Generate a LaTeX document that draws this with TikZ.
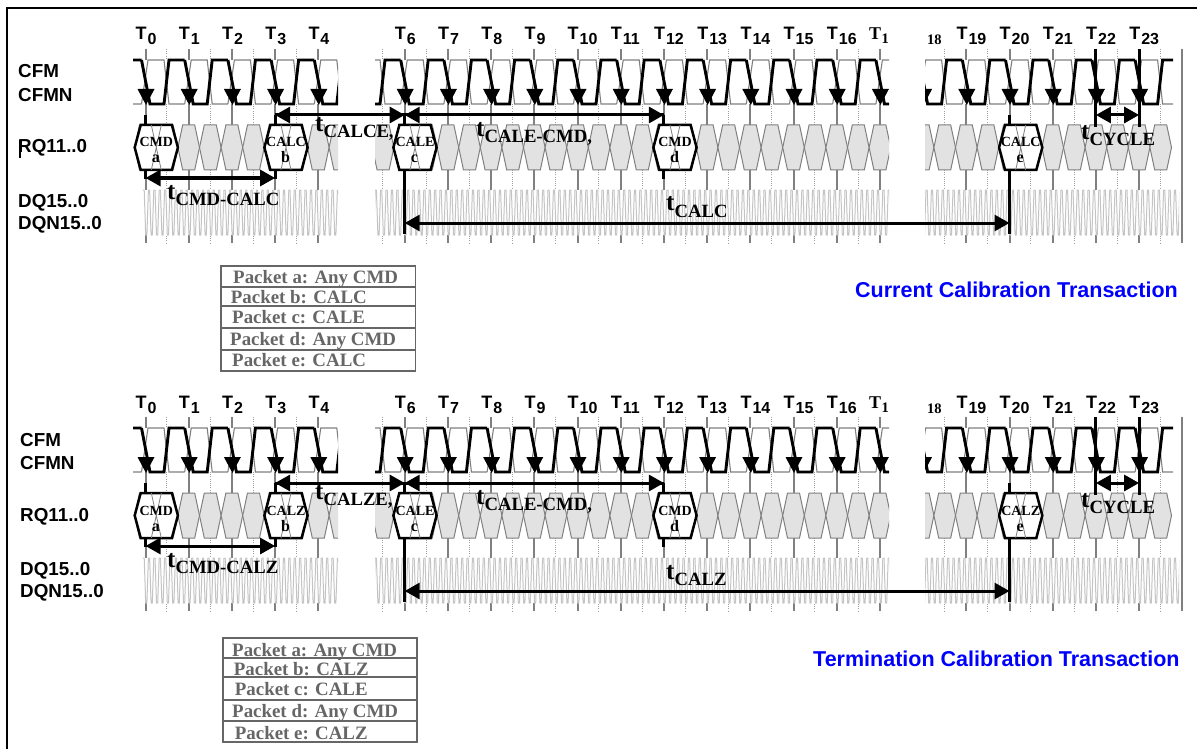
\documentclass[tikz,border=0pt]{standalone}
\usepackage{fontspec}
\setmainfont{Liberation Serif}
\setsansfont{Liberation Sans}
\usetikzlibrary{arrows.meta}
\definecolor{rampgray}{RGB}{128,128,128}
\definecolor{hexgray}{RGB}{226,226,226}
\definecolor{dqgray}{RGB}{196,196,196}
\definecolor{boxgray}{RGB}{102,102,102}
\tikzset{
  tickline/.style={rampgray,line width=2pt},
  halftick/.style={rampgray!75,line width=1pt,dash pattern=on 1pt off 1.2pt},
  clockthin/.style={rampgray,line width=1.1pt},
  clockthick/.style={black,line width=2.9pt,line join=miter},
  dqwave/.style={dqgray,line width=1pt,line join=round},
  grayhex/.style={fill=hexgray,draw=rampgray,line width=1pt},
  pkthex/.style={fill=white,draw=black,line width=2.5pt},
  pktx/.style={rampgray,line width=.8pt},
  stub/.style={black,line width=3pt},
  timearrow/.style={black,line width=3pt,-{Triangle[length=15pt,width=16pt]}},
  bothways/.style={black,line width=3pt,{Triangle[length=15pt,width=16pt]}-{Triangle[length=15pt,width=16pt]}},
  every node/.style={inner sep=0pt,anchor=base west},
  sig/.style={font=\sffamily\bfseries\fontsize{18.8}{18}\selectfont},
  ticklabel/.style={font=\sffamily\bfseries\fontsize{18}{18}\selectfont},
  tlabel/.style={font=\rmfamily\bfseries\fontsize{25}{25}\selectfont},
  hexlabel/.style={anchor=base,font=\rmfamily\bfseries\fontsize{14}{14}\selectfont},
  hexletter/.style={anchor=base,font=\rmfamily\bfseries\fontsize{16}{16}\selectfont},
  pktlabel/.style={boxgray,font=\rmfamily\bfseries\fontsize{18.9}{18}\selectfont},
  titlelabel/.style={blue,font=\sffamily\bfseries\fontsize{21.5}{21}\selectfont},
  pktrow/.style={boxgray,line width=1.8pt}
}
% t with its long subscript
\newcommand{\tlab}[4]{\node[tlabel] (#1) at (#2,#3) {t\raisebox{-6pt}{\fontsize{18.7}{19}\selectfont #4}};}
% packet hexagon, two half cycles wide
\newcommand{\pkthexa}[3]{%
  \draw[pkthex] (#1-21.6,147.5) -- (#1-15.6,125) -- (#1+15.6,125) -- (#1+21.6,147.5) -- (#1+15.6,170) -- (#1-15.6,170) -- cycle;
  \draw[pktx] (#1-5,125) -- (#1+5,170) (#1+5,125) -- (#1-5,170);
  \node[hexlabel] (hex#3) at (#1,147) {#2};
  \node[hexletter] (sub#3) at (#1-.5,163) {#3};}
% #1 y offset, #2 CALC or CALZ, #3 its CALE form, #4 left edge of signal names
\newcommand{\timingpanel}[4]{%
\begin{scope}[shift={(0,#1)}]
  % ticks first, blanked later by the clock and DQ bands
  \begin{scope}
    \clip (134,40) rectangle (338,250) (375,40) rectangle (889,250) (925,40) rectangle (1190,250);
    \foreach \i in {0,...,24} {
      \pgfmathsetmacro\tx{145.5+43.2*\i}
      \draw[tickline] (\tx,49) -- (\tx,243);
      \coordinate (up\i) at (\tx,115);
      \coordinate (hu\i) at (\tx,125);
      \coordinate (hd\i) at (\tx,170);
      \coordinate (lo\i) at (\tx,179);
      \coordinate (ca\i) at (\tx,223);
      \coordinate (bt\i) at (\tx,234);
      \coordinate (tp\i) at (\tx,49);
      \coordinate (md\i) at (\tx,127);
    }
    \foreach \i in {0,...,23} {
      \pgfmathsetmacro\tx{166.9+43.2*\i}
      \draw[halftick] (\tx,49) -- (\tx,243);
    }
    \fill[white] (134,60) rectangle (1173,104);
    \fill[white] (143,190) rectangle (1179,235);
  \end{scope}
  % clock pair
  \begin{scope}
    \clip (133,55) rectangle (338,107) (375,55) rectangle (889,107) (925,55) rectangle (1173,107);
    \foreach \i in {-1,...,24} {
      \pgfmathsetmacro\tx{145.5+43.2*\i}
      \draw[clockthin] (\tx-4,104) -- (\tx+2.5,60) -- (\tx+18.5,60) -- (\tx+23.5,104) -- (\tx+39.2,104);
      \draw[clockthick] (\tx-4,60) -- (\tx+4.5,104) -- (\tx+18.5,104) -- (\tx+23.5,60) -- (\tx+39.2,60);
      \fill[black] (\tx-8,89) -- (\tx+9,89) -- (\tx+.5,105) -- cycle;
    }
  \end{scope}
  % request packets
  \begin{scope}
    \clip (134,120) rectangle (338,175) (375,120) rectangle (889,175) (925,120) rectangle (1173,175);
    \foreach \k in {0,...,47} {
      \pgfmathsetmacro\cx{145.5+21.6*\k}
      \draw[grayhex] (\cx-10.8,147.5) -- (\cx-6,125) -- (\cx+6,125) -- (\cx+10.8,147.5) -- (\cx+6,170) -- (\cx-6,170) -- cycle;
    }
  \end{scope}
  % data lines
  \begin{scope}
    \clip (142,185) rectangle (338,240) (375,185) rectangle (889,240) (925,185) rectangle (1179,240);
    \foreach \k in {0,...,192} {
      \pgfmathsetmacro\cx{143+5.4*\k}
      \draw[dqwave] (\cx,190) -- (\cx+1.2,190) -- (\cx+2.7,235) -- (\cx+3.9,235) -- (\cx+5.4,190);
    }
  \end{scope}
  \pkthexa{156.3}{CMD}{a}
  \pkthexa{286}{#2}{b}
  \pkthexa{415}{CALE}{c}
  \pkthexa{675}{CMD}{d}
  \pkthexa{1020.7}{#2}{e}
  % timing connectors
  \draw[stub] (up0) -- (hu0);
  \draw[stub] (hd0) -- (lo0);
  \draw[stub] (up3) -- (hu3);
  \draw[stub] (hd3) -- (lo3);
  \draw[stub] (up6) -- (hu6);
  \draw[stub] (hd6) -- (bt6);
  \draw[stub] (up12) -- (hu12);
  \draw[stub] (hd12) -- (lo12);
  \draw[stub] (up20) -- (hu20);
  \draw[stub] (hd20) -- (bt20);
  \draw[stub] (tp22) -- (md22);
  \draw[stub] (tp23) -- (md23);
  \draw[timearrow] (up6) -- (up3);
  \draw[timearrow] (up3) -- (up6);
  \draw[timearrow] (up12) -- (up6);
  \draw[timearrow] (up6) -- (up12);
  \draw[bothways] ([yshift=1pt]lo0) -- ([yshift=1pt]lo3);
  \draw[bothways] (ca6) -- (ca20);
  \draw[bothways] (up22) -- (up23);
  % tick names
  \foreach \i in {0,1,2,3,4,6,7,8,9,10,11,12,13,14,15,16,19,20,21,22,23} {
    \pgfmathsetmacro\tx{135.5+43.2*\i}
    \node[ticklabel] (tl\i) at (\tx,40) {T\kern1pt\raisebox{-5pt}{\fontsize{16}{16}\selectfont\i}};
  }
  \node[font=\rmfamily\bfseries\fontsize{18}{18}\selectfont] (tl17) at (869,40) {T\kern.5pt\raisebox{-4pt}{\fontsize{14.5}{14}\selectfont 1}};
  \node[font=\rmfamily\bfseries\fontsize{14.5}{14}\selectfont] (tl18) at (927,45) {18};
  % signal names
  \node[sig] (cfm) at (#4,78) {CFM};
  \node[sig] (cfmn) at (#4,101.5) {CFMN};
  \node[sig] (rq) at (#4,153) {RQ11..0};
  \node[sig] (dq) at (#4,207) {DQ15..0};
  \node[sig] (dqn) at (#4,229.5) {DQN15..0};
  % interval names
  \tlab{tcale}{315}{131.5}{#3,}
  \tlab{tcmd}{167}{199}{CMD-#2}
  \tlab{tcalecmd}{476}{136.5}{CALE-CMD,}
  \tlab{tcal}{666}{211}{#2}
  \tlab{tcycle}{1081}{139.5}{CYCLE}
\end{scope}}
\begin{document}
\begin{tikzpicture}[x=1pt,y=-1pt]
\useasboundingbox (0,0) rectangle (1197,749);
\draw[black,line width=2.4pt] (1197,8) -- (7,8) -- (7,749);
\timingpanel{0}{CALC}{CALCE}{18}
\timingpanel{368}{CALZ}{CALZE}{20}
\draw[black,line width=2pt] (20,140) -- (20,158);
% packet key, top
\foreach \ya/\yb in {265.7/286.7,286.7/306,306/327.7,327.7/350,350/370.7}
  \draw[pktrow] (221,\ya) rectangle (415.5,\yb);
\node[pktlabel] (keya) at (233,283) {Packet a: Any CMD};
\node[pktlabel] (keyb) at (230.7,303) {Packet b: CALC};
\node[pktlabel] (keyc) at (232,323) {Packet c: CALE};
\node[pktlabel] (keyd) at (230,345.7) {Packet d: Any CMD};
\node[pktlabel] (keye) at (232,366.6) {Packet e: CALC};
% packet key, bottom
\foreach \ya/\yb in {638.3/658,658/677,677/700,700/721,721/742}
  \draw[pktrow] (223,\ya) rectangle (417,\yb);
\node[pktlabel] (keyf) at (232,656.7) {Packet a: Any CMD};
\node[pktlabel] (keyg) at (233.7,675.7) {Packet b: CALZ};
\node[pktlabel] (keyh) at (234.7,695.7) {Packet c: CALE};
\node[pktlabel] (keyi) at (232,717) {Packet d: Any CMD};
\node[pktlabel] (keyj) at (234.7,739) {Packet e: CALZ};
% titles
\node[titlelabel] (curtitle) at (855,297.5) {Current Calibration Transaction};
\node[titlelabel] (termtitle) at (813,666) {Termination Calibration Transaction};
\end{tikzpicture}
\end{document}
